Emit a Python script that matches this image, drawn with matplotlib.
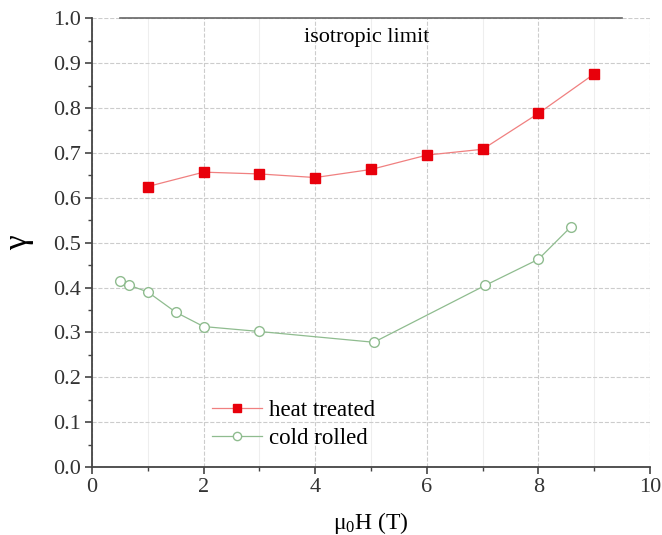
import numpy as np
import matplotlib
matplotlib.use("Agg")
import matplotlib.pyplot as plt
from matplotlib.ticker import MultipleLocator

# heat treated sample
heat_x = [1, 2, 3, 4, 5, 6, 7, 8, 9]
heat_y = [0.625, 0.657, 0.653, 0.645, 0.663, 0.695, 0.708, 0.788, 0.876]

# cold rolled sample
cold_x = [0.5, 0.67, 1.0, 1.5, 2.0, 3.0, 5.05, 7.05, 8.0, 8.58]
cold_y = [0.415, 0.405, 0.390, 0.345, 0.313, 0.302, 0.278, 0.405, 0.463, 0.535]

# isotropic limit line
iso_x = [0.5, 9.5]
iso_y = [1.0, 1.0]

plt.rcParams['font.family'] = ['Liberation Serif', 'DejaVu Serif']

fig = plt.figure(figsize=(6.62, 5.35), dpi=100)
ax = fig.add_axes([0.139, 0.127, 0.843, 0.839])

ax.plot(iso_x, iso_y, color='#666666', linewidth=1.2, clip_on=False)
ax.text(4.93, 0.957, 'isotropic limit', ha='center', va='center', fontsize=16)

ax.plot(heat_x, heat_y, color='#f08080', linewidth=0.9, marker='s', markersize=7,
        markerfacecolor='#e8000b', markeredgecolor='#e8000b', label='heat treated')
ax.plot(cold_x, cold_y, color='#8fbc8f', linewidth=0.9, marker='o', markersize=7,
        markerfacecolor='white', markeredgecolor='#8fbc8f', label='cold rolled')

ax.set_xlim(0, 10)
ax.set_ylim(0, 1.0)
ax.xaxis.set_major_locator(MultipleLocator(2))
ax.xaxis.set_minor_locator(MultipleLocator(1))
ax.yaxis.set_major_locator(MultipleLocator(0.1))
ax.yaxis.set_minor_locator(MultipleLocator(0.05))
ax.yaxis.set_major_formatter(matplotlib.ticker.FormatStrFormatter('%.1f'))

ax.grid(True, which='major', color='#cccccc', linestyle='--', linewidth=0.8)
ax.grid(True, which='minor', axis='x', color='#eeeeee', linestyle='-', linewidth=0.8)

for s in ['top', 'right']:
    ax.spines[s].set_visible(False)
for s in ['left', 'bottom']:
    ax.spines[s].set_color('#444444')
    ax.spines[s].set_linewidth(1.3)

ax.tick_params(which='major', direction='out', length=5, width=1.2, labelsize=16,
               colors='#444444', pad=3)
ax.tick_params(which='minor', direction='out', length=3, width=1.0, colors='#444444')
for lbl in ax.get_xticklabels() + ax.get_yticklabels():
    lbl.set_color('#333333')

ax.set_xlabel(r'$\mathregular{\mu_0}$H (T)', fontsize=17, labelpad=9)
ax.set_ylabel('γ', fontsize=24, labelpad=14)

ax.legend(loc='lower left', bbox_to_anchor=(0.178, -0.005), frameon=False, fontsize=16.5,
          handlelength=2.2, handletextpad=0.3, labelspacing=0.3, markerscale=0.85)

fig.savefig('out.png', dpi=100)
